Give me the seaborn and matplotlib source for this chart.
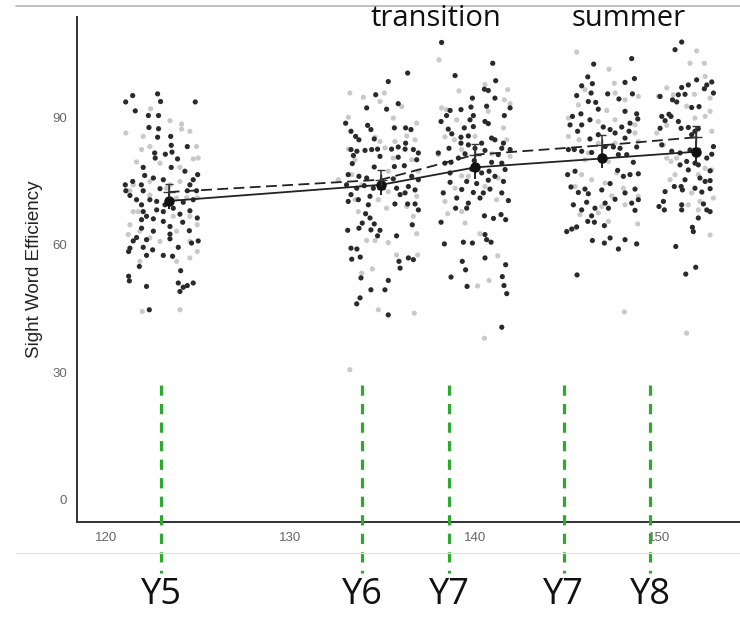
import matplotlib
matplotlib.use("Agg")
import matplotlib.pyplot as plt
from matplotlib.lines import Line2D
import pandas as pd
import seaborn as sns

# individual scores, dark group (age in months, score)
dark_age = [
    # wave 1
    121.45, 122.80, 121.07, 122.96, 124.84, 121.59, 122.30, 122.85, 122.33, 122.85,
    122.80, 123.51, 123.54, 124.41, 122.64, 123.22, 123.58, 122.67, 123.88, 122.02,
    123.54, 124.28, 122.10, 122.57, 124.97, 121.45, 124.73, 121.05, 121.92, 123.11,
    124.55, 121.08, 122.02, 122.93, 124.41, 124.91, 121.30, 121.66, 122.38, 122.75,
    123.20, 123.65, 124.19, 124.73, 121.93, 122.75, 122.02, 122.20, 123.11, 124.55,
    121.93, 122.57, 123.11, 124.01, 124.95, 121.93, 123.47, 124.16, 122.57, 124.52,
    123.47, 121.66, 123.47, 125.00, 121.48, 122.20, 124.64, 121.30, 122.02, 122.53,
    123.92, 121.23, 122.20, 123.11, 123.61, 121.81, 124.05, 121.23, 121.27, 122.20,
    123.92, 124.19, 124.41, 124.73, 124.01, 122.35,
    # wave 2
    136.35, 135.30, 134.62, 134.13, 135.21, 135.84, 132.99, 134.18, 134.36, 135.63,
    136.24, 136.53, 133.28, 133.53, 133.71, 134.54, 136.24, 134.72, 133.28, 133.60,
    134.04, 134.40, 135.48, 135.84, 136.21, 136.66, 136.93, 133.41, 134.85, 135.84,
    136.84, 133.35, 135.63, 136.17, 134.54, 133.13, 133.71, 134.13, 134.94, 135.57,
    136.57, 136.93, 133.04, 133.59, 134.00, 134.49, 135.75, 136.39, 136.75, 133.28,
    133.68, 134.31, 135.94, 136.21, 133.13, 134.22, 135.66, 136.35, 136.75, 136.93,
    134.07, 134.31, 133.89, 134.54, 133.71, 133.10, 134.36, 134.85, 136.60, 134.72,
    135.75, 133.28, 133.60, 133.32, 133.78, 135.88, 135.94, 136.39, 136.66, 133.82,
    135.30, 134.36, 135.12, 133.77, 133.59, 135.30,
    # wave 3
    138.19, 140.96, 138.92, 141.12, 140.51, 140.72, 141.08, 139.86, 141.90, 139.78,
    139.24, 138.65, 140.63, 138.46, 141.59, 138.16, 139.91, 139.73, 140.54, 140.72,
    138.55, 139.42, 139.91, 138.74, 139.24, 139.64, 140.90, 140.36, 141.08, 141.54,
    139.24, 139.64, 138.59, 140.00, 141.45, 141.90, 138.01, 139.46, 140.54, 139.10,
    141.26, 138.37, 138.70, 139.96, 140.90, 141.45, 141.63, 138.65, 139.82, 140.36,
    140.76, 141.08, 138.65, 139.55, 140.09, 140.72, 141.54, 138.28, 139.28, 139.91,
    140.45, 140.81, 141.45, 141.81, 139.01, 139.64, 140.27, 138.95, 139.55, 140.51,
    141.00, 141.41, 141.66, 138.16, 140.54, 140.63, 140.87, 138.34, 139.37, 139.86,
    140.54, 139.31, 139.49, 141.66, 138.70, 141.48, 139.57, 141.57, 141.72, 141.45,
    # wave 4
    148.49, 146.43, 146.11, 148.64, 145.78, 146.36, 148.13, 145.51, 146.29, 147.19,
    147.80, 148.53, 146.14, 146.54, 146.68, 148.13, 148.76, 145.28, 145.74, 145.15,
    145.78, 146.23, 148.40, 146.95, 147.32, 147.59, 147.95, 148.82, 145.56, 146.23,
    146.68, 148.13, 148.35, 145.06, 145.38, 145.78, 146.32, 147.05, 147.50, 147.86,
    148.76, 146.87, 147.77, 148.22, 148.58, 147.73, 145.02, 145.42, 148.04, 148.40,
    148.85, 145.20, 145.60, 145.96, 146.14, 146.87, 147.32, 147.59, 148.13, 148.67,
    148.85, 145.33, 146.05, 147.05, 146.50, 148.49, 145.78, 147.23, 148.67, 146.32,
    146.11, 146.47, 147.01, 144.97, 145.24, 145.51, 146.36, 147.01, 147.32, 147.77,
    148.13, 148.76, 145.53,
    # wave 5
    151.20, 150.84, 152.01, 151.56, 151.20, 152.56, 152.83, 152.43, 150.03, 152.92,
    151.38, 150.70, 150.93, 151.02, 151.74, 152.14, 150.51, 150.12, 150.30, 150.62,
    150.03, 151.02, 151.17, 151.56, 151.92, 151.74, 152.10, 150.12, 150.66, 151.11,
    151.65, 152.92, 151.47, 151.92, 152.10, 152.56, 152.83, 151.11, 151.56, 152.74,
    151.38, 152.19, 152.47, 152.74, 150.80, 151.17, 150.30, 151.24, 151.92, 152.74,
    152.29, 150.21, 149.97, 150.26, 151.20, 151.20, 152.38, 152.56, 152.74, 152.10,
    151.78, 151.83, 150.88, 151.42, 151.96,
]
dark_score = [
    # wave 1
    95.1, 95.5, 93.6, 93.7, 93.6, 91.5, 90.4, 90.4, 87.6, 87.3,
    85.3, 85.5, 83.4, 83.1, 81.6, 81.3, 81.8, 80.4, 80.2, 78.2,
    78.2, 77.3, 76.3, 75.7, 76.5, 74.9, 75.3, 74.1, 74.1, 75.3,
    74.1, 72.7, 72.7, 73.2, 72.7, 72.7, 71.6, 70.6, 70.6, 70.2,
    69.4, 68.6, 70.0, 70.6, 69.4, 68.2, 67.8, 66.7, 67.8, 68.0,
    65.9, 66.1, 65.5, 67.2, 66.3, 63.9, 64.3, 65.3, 63.2, 63.3,
    62.5, 61.7, 61.4, 60.9, 60.9, 61.2, 60.4, 59.2, 59.4, 58.8,
    59.4, 58.4, 57.5, 57.5, 57.3, 54.9, 53.9, 52.6, 51.5, 50.2,
    51.0, 50.0, 50.4, 51.0, 49.0, 44.7,
    # wave 2
    100.4, 98.4, 95.3, 92.2, 91.9, 93.2, 88.6, 88.1, 87.1, 87.5,
    87.5, 87.1, 86.7, 85.5, 84.7, 84.9, 83.9, 82.5, 82.4, 82.0,
    82.2, 82.4, 82.5, 83.0, 82.5, 82.4, 81.6, 81.0, 80.8, 80.6,
    80.0, 79.1, 78.4, 78.6, 78.3, 76.5, 76.1, 75.7, 74.4, 75.5,
    76.1, 75.3, 74.1, 73.3, 73.9, 73.3, 73.3, 73.7, 72.9, 71.8,
    70.6, 71.4, 71.8, 72.2, 70.2, 69.4, 69.6, 69.6, 69.6, 68.2,
    67.3, 66.3, 65.1, 64.9, 63.9, 63.4, 63.5, 63.4, 64.7, 62.1,
    62.1, 59.2, 59.0, 56.6, 57.1, 56.1, 54.5, 56.9, 56.5, 52.2,
    51.6, 49.4, 49.4, 47.5, 46.1, 43.5,
    # wave 3
    107.6, 102.7, 99.8, 98.6, 96.6, 96.3, 94.5, 94.5, 92.2, 92.4,
    91.8, 91.6, 92.6, 90.4, 90.4, 89.0, 90.4, 89.4, 89.0, 88.5,
    87.2, 87.5, 87.8, 86.1, 85.3, 85.6, 85.1, 83.9, 84.7, 83.9,
    83.9, 83.5, 82.7, 82.7, 82.7, 82.4, 81.6, 81.4, 82.2, 80.4,
    81.2, 79.2, 79.4, 79.8, 79.4, 79.2, 77.7, 76.9, 77.8, 76.9,
    77.3, 76.1, 74.7, 74.9, 74.4, 75.2, 74.9, 72.2, 73.0, 72.3,
    72.2, 73.1, 72.2, 70.4, 71.0, 69.8, 71.0, 68.6, 68.6, 66.8,
    66.2, 67.1, 65.9, 65.3, 62.4, 61.2, 60.6, 60.2, 60.6, 60.4,
    56.9, 56.1, 54.1, 55.3, 52.4, 52.5, 50.2, 50.4, 48.5, 40.6,
    # wave 4
    103.8, 102.5, 99.5, 99.1, 97.4, 97.9, 98.2, 95.1, 95.7, 95.5,
    94.3, 95.5, 93.7, 93.5, 91.9, 91.4, 90.8, 90.2, 90.8, 88.2,
    88.2, 89.4, 88.6, 87.7, 87.1, 86.3, 87.7, 89.6, 86.7, 84.9,
    85.9, 85.1, 86.7, 82.4, 82.4, 82.0, 81.7, 83.1, 83.0, 82.7,
    83.0, 80.4, 81.2, 81.2, 79.4, 77.5, 76.5, 77.3, 76.1, 76.5,
    76.7, 73.6, 72.3, 73.1, 72.0, 72.9, 74.4, 70.7, 72.2, 73.1,
    70.6, 69.4, 70.0, 69.8, 68.6, 69.8, 68.2, 68.6, 68.1, 66.8,
    65.5, 65.3, 64.5, 63.1, 63.7, 64.2, 61.0, 60.4, 61.6, 59.0,
    61.2, 60.2, 52.9,
    # wave 5
    107.7, 105.9, 98.8, 97.6, 97.0, 97.6, 98.3, 96.7, 94.9, 95.7,
    95.4, 94.1, 93.6, 95.3, 92.3, 92.5, 90.7, 90.2, 89.2, 90.2,
    87.4, 89.0, 87.4, 87.6, 86.7, 85.9, 87.3, 83.5, 82.0, 81.6,
    82.3, 83.1, 79.6, 79.2, 78.8, 80.4, 81.3, 78.8, 77.6, 77.4,
    75.3, 75.7, 74.9, 75.1, 73.7, 73.7, 72.5, 72.9, 73.3, 73.2,
    72.4, 70.2, 69.0, 68.2, 69.4, 68.2, 69.6, 68.2, 67.8, 66.3,
    64.1, 63.1, 59.6, 53.1, 54.7,
]

# individual scores, light group
light_age = [
    # wave 1
    121.08, 122.02, 123.47, 122.42, 124.10, 124.10, 124.55, 121.93, 122.38, 124.91,
    125.00, 121.66, 122.93, 124.01, 124.73, 121.48, 122.38, 123.47, 124.01, 121.30,
    122.38, 123.29, 123.83, 124.37, 124.95, 121.48, 123.65, 124.55, 124.95, 121.30,
    121.84, 122.38, 123.83, 122.93, 124.55, 124.95, 123.83, 124.55, 121.84, 121.97,
    124.01, 121.75, 121.21,
    # wave 2
    133.22, 133.95, 135.09, 134.85, 136.03, 133.14, 135.57, 136.84, 134.58, 134.85,
    135.66, 136.30, 133.14, 135.12, 136.75, 133.50, 135.57, 136.57, 133.32, 135.30,
    136.93, 133.86, 135.30, 136.84, 133.50, 134.76, 135.21, 136.66, 133.68, 136.84,
    134.13, 134.58, 135.30, 135.75, 136.89, 134.44, 133.86, 134.76, 136.71, 132.59,
    136.30, 133.22,
    # wave 3
    138.05, 139.13, 140.54, 141.77, 138.19, 138.46, 141.59, 141.90, 139.01, 140.72,
    141.54, 138.37, 138.88, 140.00, 141.72, 138.01, 139.28, 140.90, 141.90, 139.28,
    139.64, 141.26, 138.92, 140.54, 141.17, 138.37, 139.28, 138.52, 139.46, 140.27,
    141.23, 140.76, 140.14, 140.51,
    # wave 4
    145.51, 147.26, 147.55, 145.96, 147.59, 148.85, 145.60, 147.14, 148.13, 145.06,
    146.68, 147.59, 148.67, 145.06, 145.64, 146.68, 148.67, 148.85, 146.14, 147.59,
    145.96, 147.23, 145.78, 146.32, 147.05, 147.68, 145.42, 148.04, 148.85, 147.41,
    145.69, 148.13, 146.68, 145.42, 147.23, 148.82, 146.87, 148.09,
    # wave 5
    152.01, 151.65, 152.43, 152.47, 150.39, 149.94, 150.75, 151.89, 152.74, 151.47,
    152.74, 152.47, 150.39, 151.92, 152.83, 150.21, 150.62, 150.93, 150.57, 152.47,
    152.83, 152.10, 150.84, 151.74, 151.56, 152.19, 152.92, 152.10, 152.74, 151.47,
    150.39, 149.85,
]
light_score = [
    # wave 1
    86.3, 85.5, 89.2, 92.0, 88.4, 87.2, 86.7, 82.4, 83.1, 83.1,
    80.4, 79.5, 79.2, 78.2, 80.2, 74.1, 74.9, 74.1, 74.9, 72.7,
    71.7, 73.3, 71.0, 71.1, 71.1, 67.8, 66.7, 66.7, 64.7, 64.7,
    63.2, 61.6, 63.2, 60.8, 60.8, 58.4, 56.1, 56.9, 56.1, 44.3,
    44.7, 67.8, 62.4,
    # wave 2
    95.7, 94.7, 95.7, 93.7, 92.5, 90.0, 89.8, 88.6, 85.3, 84.3,
    84.3, 85.6, 82.5, 82.8, 84.7, 80.0, 80.4, 80.0, 76.5, 77.3,
    77.3, 74.1, 72.5, 71.4, 70.6, 70.6, 68.6, 66.7, 67.8, 62.6,
    61.0, 61.0, 60.5, 57.6, 57.6, 54.3, 53.3, 44.7, 43.9, 75.3,
    69.0, 30.6,
    # wave 3
    103.5, 96.2, 97.7, 96.5, 92.2, 91.8, 94.1, 93.2, 89.4, 91.4,
    87.5, 85.4, 84.7, 85.5, 84.7, 81.2, 82.4, 81.4, 80.8, 76.2,
    76.1, 75.7, 73.3, 73.7, 70.6, 70.2, 67.8, 67.3, 65.1, 62.6,
    57.4, 51.6, 50.3, 38.0,
    # wave 4
    105.3, 101.3, 98.0, 96.5, 95.7, 94.9, 92.9, 91.6, 94.1, 89.8,
    89.0, 89.4, 88.2, 85.5, 84.7, 83.9, 86.3, 84.3, 81.6, 83.9,
    80.0, 79.6, 76.5, 75.3, 74.5, 76.9, 73.7, 73.3, 71.4, 71.5,
    67.1, 69.4, 67.5, 63.9, 65.5, 64.9, 69.0, 44.2,
    # wave 5
    105.6, 102.7, 102.7, 99.6, 96.9, 94.9, 95.3, 95.4, 94.5, 92.6,
    91.4, 90.2, 88.1, 89.8, 86.7, 83.5, 79.6, 80.4, 75.3, 78.0,
    77.6, 76.5, 76.5, 72.2, 69.4, 70.2, 71.0, 68.2, 62.3, 39.2,
    80.4, 86.3,
]

# group means per wave with error bars
mean_age = [123.4, 134.9, 140.0, 146.9, 152.0]
mean_solid = [70.3, 74.1, 78.2, 80.3, 81.9]
mean_dashed = [72.4, 75.3, 81.2, 83.4, 85.3]
err_solid = [1.8, 2.4, 2.8, 2.2, 2.4]
err_dashed = [1.8, 2.2, 2.6, 2.4, 2.6]

# study timeline markers
wave_age = [123.0, 133.9, 138.6, 144.8, 149.5]
wave_label = ["Y5", "Y6", "Y7", "Y7", "Y8"]

dark = pd.DataFrame({"age": dark_age, "score": dark_score})
light = pd.DataFrame({"age": light_age, "score": light_score})
means = pd.DataFrame({"age": mean_age * 2,
                      "score": mean_solid + mean_dashed,
                      "grp": ["a"] * 5 + ["b"] * 5})

sns.set_style("white")
fig = plt.figure(figsize=(7.4, 6.28), dpi=100)
ax = fig.add_axes([0.104, 0.169, 0.896, 0.804])

sns.scatterplot(data=light, x="age", y="score", color="#c9c9c9", s=14,
                edgecolor="none", ax=ax, zorder=2)
sns.scatterplot(data=dark, x="age", y="score", color="#2a2a2a", s=14,
                edgecolor="none", ax=ax, zorder=3)
sns.lineplot(data=means, x="age", y="score", style="grp", color="#222222",
             linewidth=1.3, dashes={"a": "", "b": (6, 3)}, legend=False,
             ax=ax, zorder=5)
ax.errorbar(mean_age, mean_solid, yerr=err_solid, fmt="o", color="#111111",
            markersize=6.5, capsize=0, elinewidth=1.3, zorder=6)
ax.errorbar(mean_age, mean_dashed, yerr=err_dashed, fmt="+", color="#333333",
            markersize=8, capsize=3, elinewidth=1.1, zorder=6)

ax.set_xlim(118.43, 154.36)
ax.set_ylim(-5.2, 113.6)
ax.set_xticks([120, 130, 140, 150])
ax.set_yticks([0, 30, 60, 90])
ax.set_xlabel("")
ax.set_ylabel("Sight Word Efficiency", fontsize=13.5, color="#222222",
              family="Liberation Sans", labelpad=7)
ax.tick_params(axis="both", labelsize=9.5, labelcolor="#666666", color="#555555",
               length=3, width=0.8, direction="out", pad=4)
for lab in ax.get_xticklabels() + ax.get_yticklabels():
    lab.set_family("Liberation Sans")
sns.despine(ax=ax)
for side in ["left", "bottom"]:
    ax.spines[side].set_color("#333333")
    ax.spines[side].set_linewidth(1.4)

# green dashed timeline markers running below the axis
for a in wave_age:
    ax.plot([a, a], [27.0, -17.2], color="#2ea82e", linewidth=2.3,
            dashes=(3.2, 2.6), clip_on=False, zorder=8)

for a, lab in zip(wave_age, wave_label):
    ax.annotate(lab, xy=(a, 0), xycoords=("data", "figure fraction"),
                xytext=(0, 17), textcoords="offset points",
                ha="center", va="baseline", fontsize=26, family="Open Sans",
                color="#111111", annotation_clip=False)

fig.text(0.589, 0.958, "transition", ha="center", va="baseline", fontsize=21,
         family="Open Sans", color="#111111")
fig.text(0.85, 0.958, "summer", ha="center", va="baseline", fontsize=21,
         family="Open Sans", color="#111111")

fig.add_artist(Line2D([0.022, 1.0], [0.990, 0.990], color="#b5b5b5", linewidth=1.2))
fig.add_artist(Line2D([0.022, 1.0], [0.119, 0.119], color="#e2e2e2", linewidth=0.9))

fig.savefig("out.png", dpi=100)
